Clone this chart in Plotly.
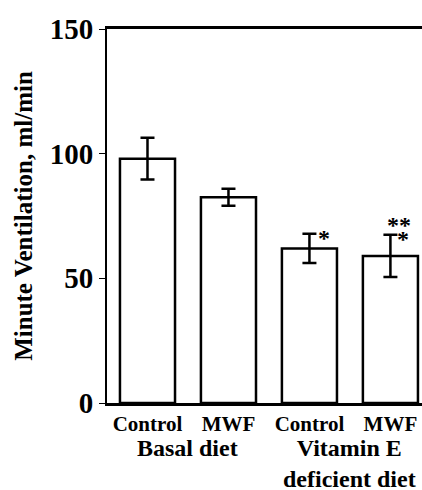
import plotly.graph_objects as go

categories = ["Control", "MWF", "Control", "MWF"]
values = [98, 82.5, 62, 59]
errors = [8.4, 3.4, 5.9, 8.5]
groups = ["Basal diet", "Vitamin E<br>deficient diet"]
group_pos = [0.5, 2.5]
y_ticks = [0, 50, 100, 150]

FONT = "Liberation Serif"
x_idx = list(range(len(categories)))

fig = go.Figure()
fig.add_trace(go.Bar(
    x=x_idx, y=values, width=0.68,
    marker=dict(color="white", line=dict(color="black", width=2.5)),
    error_y=dict(type="data", array=errors, visible=True, color="black",
                 thickness=2.5, width=7),
    showlegend=False, hoverinfo="skip",
))

annotations = []
for g, p in zip(groups, group_pos):
    annotations.append(dict(x=p, y=0, xref="x", yref="y", text="<b>%s</b>" % g,
                            showarrow=False, yanchor="top", yshift=-30,
                            font=dict(family=FONT, size=24, color="black")))
# significance marks
annotations.append(dict(x=2, y=values[2] + errors[2], xref="x", yref="y", text="<b>*</b>",
                        showarrow=False, xshift=15, yshift=-4,
                        font=dict(family=FONT, size=24, color="black")))
annotations.append(dict(x=3, y=values[3] + errors[3], xref="x", yref="y", text="<b>*</b>",
                        showarrow=False, xshift=13, yshift=-4,
                        font=dict(family=FONT, size=24, color="black")))
annotations.append(dict(x=3, y=values[3] + errors[3], xref="x", yref="y", text="<b>**</b>",
                        showarrow=False, xshift=9, yshift=10,
                        font=dict(family=FONT, size=24, color="black")))

fig.update_layout(
    width=422, height=490,
    margin=dict(l=107, r=0, t=29, b=87),
    plot_bgcolor="white", paper_bgcolor="white",
    font=dict(family=FONT, color="black"),
    annotations=annotations,
    xaxis=dict(
        range=[-0.5, 3.39], tickvals=x_idx,
        ticktext=["<b>%s</b>" % c for c in categories],
        tickfont=dict(family=FONT, size=21, color="black"),
        showline=True, linecolor="black", linewidth=3, mirror=True,
        ticks="", showgrid=False, zeroline=False,
    ),
    yaxis=dict(
        range=[0, 150], tickvals=y_ticks,
        ticktext=["<b>%d</b>" % v for v in y_ticks],
        tickfont=dict(family=FONT, size=29, color="black"),
        showline=True, linecolor="black", linewidth=2,
        ticks="outside", ticklen=6, tickwidth=1, tickcolor="black",
        showgrid=False, zeroline=False,
        title=dict(text="<b>Minute Ventilation, ml/min</b>",
                   font=dict(family=FONT, size=25, color="black"), standoff=10),
    ),
)

fig.write_html("out.html", config={"displayModeBar": False},
               post_script="document.body.style.margin='0';document.body.style.overflow='hidden';")
